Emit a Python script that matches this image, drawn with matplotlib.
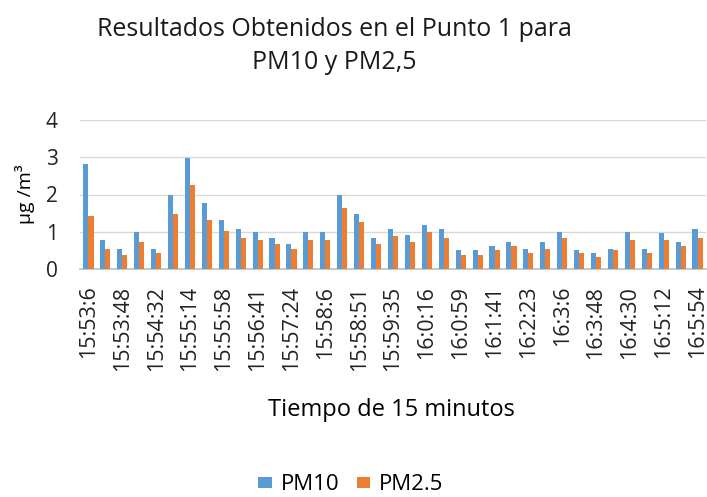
import numpy as np
from matplotlib import pyplot as plt

plt.rcParams['font.family'] = ['Open Sans', 'DejaVu Sans']

# 37 readings, roughly every 21 s; only every second one is labelled
pm10 = [2.83, 0.78, 0.55, 0.98, 0.55, 1.98, 2.97, 1.78, 1.31, 1.08,
        1.00, 0.84, 0.67, 0.98, 0.98, 1.99, 1.48, 0.84, 1.08, 0.90,
        1.19, 1.08, 0.50, 0.50, 0.61, 0.73, 0.55, 0.73, 1.00, 0.50,
        0.43, 0.55, 0.98, 0.55, 0.96, 0.73, 1.08]
pm25 = [1.42, 0.55, 0.37, 0.73, 0.43, 1.48, 2.26, 1.31, 1.02, 0.84,
        0.78, 0.67, 0.55, 0.78, 0.78, 1.64, 1.25, 0.67, 0.89, 0.73,
        1.00, 0.84, 0.37, 0.37, 0.50, 0.61, 0.43, 0.55, 0.84, 0.43,
        0.32, 0.50, 0.78, 0.43, 0.78, 0.61, 0.84]
tick_labels = ['15:53:6', '15:53:48', '15:54:32', '15:55:14', '15:55:58',
               '15:56:41', '15:57:24', '15:58:6', '15:58:51', '15:59:35',
               '16:0:16', '16:0:59', '16:1:41', '16:2:23', '16:3:6',
               '16:3:48', '16:4:30', '16:5:12', '16:5:54']

blue = '#5B9BD5'
orange = '#ED7D31'

fig = plt.figure(figsize=(7.07, 4.97), dpi=100)
ax = fig.add_axes([80/707, 1-269/497, 626/707, 149/497])

x = np.arange(len(pm10))
w = 0.3
ax.bar(x - w/2, pm10, w, color=blue, label='PM10', zorder=3)
ax.bar(x + w/2, pm25, w, color=orange, label='PM2.5', zorder=3)

ax.set_xlim(-0.5, len(pm10) - 0.5)
ax.set_ylim(0, 4)
ax.set_yticks([0, 1, 2, 3, 4])
ax.tick_params(axis='y', length=0, pad=16, labelsize=15, labelcolor='#222222')
ax.set_xticks(x[::2])
ax.set_xticklabels(tick_labels, rotation=90, fontsize=15.5, color='#222222')
ax.tick_params(axis='x', length=0, pad=12)
ax.grid(axis='y', color='#D9D9D9', lw=1, zorder=0)
for s in ['top', 'right', 'left']:
    ax.spines[s].set_visible(False)
ax.spines['bottom'].set_color('#BFBFBF')
ax.spines['bottom'].set_linewidth(1.2)

ax.set_ylabel('µg /m³', fontsize=14, labelpad=8)
fig.text(391/707, 1-410/497, 'Tiempo de 15 minutos', ha='center', va='center', fontsize=17)
fig.text(334/707, 1-46/497, 'Resultados Obtenidos en el Punto 1 para\nPM10 y PM2,5',
         ha='center', va='center', fontsize=18, linespacing=1.45, color='#1a1a1a')

fig.legend(loc='center', bbox_to_anchor=(351/707, 1-485/497), ncol=2, frameon=False,
           fontsize=16, handlelength=0.6, handleheight=0.42, columnspacing=0.8, handletextpad=0.4)

fig.savefig('out.png', dpi=100)
